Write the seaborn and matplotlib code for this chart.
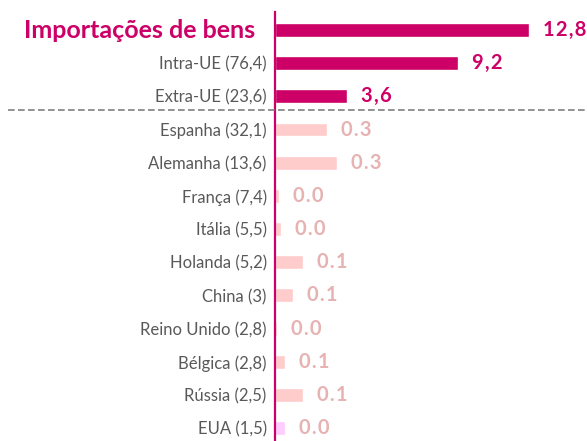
import matplotlib
matplotlib.use('Agg')
import matplotlib.pyplot as plt
import matplotlib.transforms as mtransforms
from matplotlib.lines import Line2D
import seaborn as sns
import pandas as pd

sns.set_style('white')
plt.rcParams['font.family'] = ['Lato', 'DejaVu Sans']

# data
title = 'Importações de bens'
categories = [title, 'Intra-UE (76,4)', 'Extra-UE (23,6)', 'Espanha (32,1)',
              'Alemanha (13,6)', 'França (7,4)', 'Itália (5,5)', 'Holanda (5,2)',
              'China (3)', 'Reino Unido (2,8)', 'Bélgica (2,8)', 'Rússia (2,5)',
              'EUA (1,5)']
bar_lengths = [12.8, 9.2, 3.6, 2.62, 3.12, 0.2, 0.3, 1.41, 0.91, 0.1, 0.5, 1.41, 0.5]
value_labels = ['12,8', '9,2', '3,6', '0.3', '0.3', '0.0', '0.0', '0.1', '0.1',
                '0.0', '0.1', '0.1', '0.0']
groups = ['total', 'total', 'total'] + ['pais'] * 9 + ['eua']

magenta = '#cc0066'
bar_colors = {'total': magenta, 'pais': '#ffcccc', 'eua': '#ffccff'}
text_colors = {'total': magenta, 'pais': '#e6b2b2', 'eua': '#e6b2b2'}

df = pd.DataFrame({'cat': categories, 'val': bar_lengths, 'grp': groups})

fig = plt.figure(figsize=(5.87, 4.41), dpi=100)
ax = fig.add_axes([275 / 587, 0, 312 / 587, 429 / 441])

sns.barplot(data=df, x='val', y='cat', hue='cat', orient='h', legend=False,
            palette=[bar_colors[g] for g in groups], width=0.42, saturation=1,
            ax=ax)

ax.set_xlim(0, 15.7)
ax.set_ylim(12.39, -0.543)

# value labels to the right of each bar (letter-spaced like the original)
off = mtransforms.offset_copy(ax.transData, fig=fig, x=14, y=0, units='dots')
for i, (v, s, g) in enumerate(zip(bar_lengths, value_labels, groups)):
    ax.text(v, i, '\u200a'.join(s), transform=off, ha='left', va='center',
            fontsize=14.5, fontweight='bold', color=text_colors[g])

# category labels
ax.set_yticks(range(len(categories)))
ax.set_yticklabels([''] + categories[1:], fontsize=12, color='#595959')
ax.tick_params(axis='y', length=0, pad=6)
ax.set_xticks([])
ax.set_xlabel(None)
ax.set_ylabel(None)

tr = mtransforms.blended_transform_factory(ax.transAxes, ax.transData)
ax.text(-20 / 312, 0, title, transform=tr, ha='right', va='center',
        fontsize=18, fontweight='bold', color=magenta)

for s in ['top', 'right', 'bottom']:
    ax.spines[s].set_visible(False)
ax.spines['left'].set_color(magenta)
ax.spines['left'].set_linewidth(1.6)

# dashed separator between totals and countries
fig.add_artist(Line2D([8 / 587, 1], [1 - 110 / 441, 1 - 110 / 441],
                      transform=fig.transFigure, color='#808080',
                      linestyle=(0, (4, 2)), linewidth=1.2))

plt.savefig('out.png', dpi=100)
